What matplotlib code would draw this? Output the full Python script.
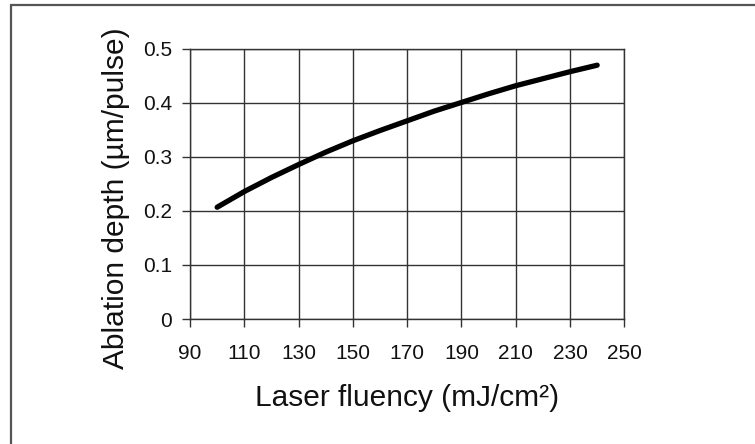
import matplotlib
matplotlib.use("Agg")
import matplotlib.pyplot as plt
from matplotlib.patches import Rectangle

# Values
fluency = [100, 110, 120, 130, 140, 150, 160, 170, 180, 190, 200, 210, 220, 230, 240]
depth = [0.207, 0.236, 0.262, 0.286, 0.309, 0.330, 0.349, 0.367, 0.385, 0.401,
         0.417, 0.432, 0.445, 0.458, 0.470]

x_ticks = [90, 110, 130, 150, 170, 190, 210, 230, 250]
y_ticks = [0, 0.1, 0.2, 0.3, 0.4, 0.5]
y_labels = ["0", "0.1", "0.2", "0.3", "0.4", "0.5"]

plt.rcParams["font.family"] = ["Liberation Sans", "DejaVu Sans"]

fig = plt.figure(figsize=(7.55, 4.44), dpi=100)
ax = fig.add_axes([190 / 755, 1 - 319 / 444, (624.3 - 190) / 755, 270 / 444])

grid_col = "#333333"
ax.plot(fluency, depth, color="black", linewidth=3.8, solid_capstyle="round", zorder=3)

ax.set_xlim(90, 250)
ax.set_ylim(0, 0.5)
ax.set_xticks(x_ticks)
ax.set_yticks(y_ticks)
ax.set_yticklabels(y_labels)
ax.grid(True, color=grid_col, linewidth=1.0)
for sp in ax.spines.values():
    sp.set_color(grid_col)
    sp.set_linewidth(1.0)
ax.tick_params(axis="both", direction="out", length=6, width=1.0, color=grid_col,
               labelsize=15, labelcolor="#111111")
ax.tick_params(axis="x", pad=12)
ax.tick_params(axis="y", pad=7)

ax.set_xlabel("Laser fluency (mJ/cm²)", fontsize=21.5, color="#111111", labelpad=15)
ax.set_ylabel("Ablation depth (µm/pulse)", fontsize=21.5, color="#111111")
ax.yaxis.set_label_coords(-0.138, 0.448)

# frame around the figure (only top and left edges visible in the reference)
fig.add_artist(Rectangle((11 / 755, -0.1), 1.2, 1 - 5 / 444 + 0.1,
                         transform=fig.transFigure, fill=False,
                         edgecolor="#555555", linewidth=1.6, clip_on=False))

fig.savefig("out.png", dpi=100, facecolor="white")
